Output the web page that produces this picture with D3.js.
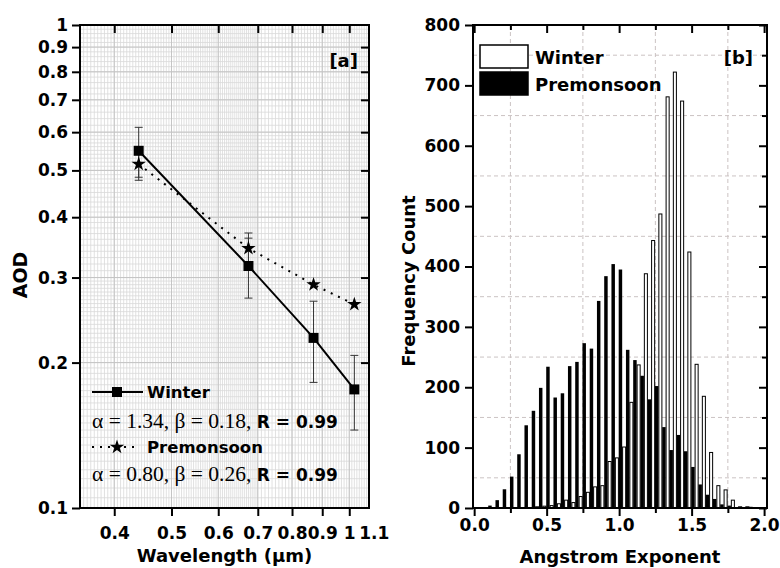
<!DOCTYPE html>
<html>
<head>
<title></title>
<script src="https://d3js.org/d3.v7.min.js"></script>
<style>
  body { margin: 0; background: #fff; }
  svg text { font-family: "DejaVu Sans", sans-serif; font-weight: bold; fill: #000; }
  .axis path { display: none; }
  .axis line { stroke: #000; stroke-width: 2; }
  .axis text { font-size: 17px; font-family: "DejaVu Sans", sans-serif; font-weight: bold; }
  .serif { font-family: "Liberation Serif", serif; font-weight: normal; }
</style>
</head>
<body>
<svg width="780" height="568"></svg>
<script>
// [a] spectral AOD, two seasons
var wavelengths = [0.44, 0.675, 0.87, 1.02];
var winterAOD = [0.549, 0.317, 0.225, 0.176];
var winterErr = [0.065, 0.045, 0.043, 0.031];
var premonAOD = [0.515, 0.345, 0.290, 0.264];
var premonErr = [0.038, 0.026, 0, 0];
var aodTicks = [0.1, 0.2, 0.3, 0.4, 0.5, 0.6, 0.7, 0.8, 0.9, 1];
var wlTicks = [0.4, 0.5, 0.6, 0.7, 0.8, 0.9, 1, 1.1];

// [b] Angstrom exponent histogram (bin centres, counts)
var aeBins = [0.10, 0.15, 0.20, 0.25, 0.30, 0.35, 0.40, 0.45, 0.50, 0.55, 0.60, 0.65, 0.70,
  0.75, 0.80, 0.85, 0.90, 0.95, 1.00, 1.05, 1.10, 1.15, 1.20, 1.25, 1.30, 1.35, 1.40,
  1.45, 1.50, 1.55, 1.60, 1.65, 1.70, 1.75, 1.80, 1.85, 1.90];
var premonCount = [4, 13, 31, 52, 89, 137, 161, 199, 234, 183, 190, 235, 242,
  273, 264, 343, 384, 404, 395, 262, 245, 219, 180, 202, 134, 96, 121,
  94, 68, 39, 22, 15, 6, 4, 0, 0, 2];
var winterCount = [0, 0, 0, 0, 0, 0, 2, 3, 4, 7, 13, 9, 19,
  26, 35, 37, 77, 83, 101, 175, 237, 388, 443, 487, 681, 722, 674,
  424, 238, 185, 92, 37, 30, 13, 2, 2, 0];
var aeTicks = [0, 0.5, 1.0, 1.5, 2.0];
var countTicks = [0, 100, 200, 300, 400, 500, 600, 700, 800];

var svg = d3.select("svg");

var A = {left: 80, right: 369, top: 25, bottom: 508};
var B = {left: 473, right: 767, top: 25, bottom: 508};

var xA = d3.scaleLog().domain([0.35, 1.08]).range([A.left, A.right]);
var yA = d3.scaleLog().domain([0.1, 1]).range([A.bottom, A.top]);
var xB = d3.scaleLinear().domain([-0.008, 2.02]).range([B.left, B.right]);
var yB = d3.scaleLinear().domain([0, 800]).range([B.bottom, B.top]);

// ---------- panel a ----------
var ga = svg.append("g");

// dense minor grid (origin style)
var gx = d3.range(350, 700, 5).concat(d3.range(700, 1081, 10)).map(function(d) { return d / 1000; });
var gy = d3.range(100, 300, 5).concat(d3.range(300, 600, 10)).concat(d3.range(600, 1001, 20)).map(function(d) { return d / 1000; });
ga.append("g").selectAll("line").data(gx).enter().append("line")
  .attr("x1", xA).attr("x2", xA).attr("y1", A.top).attr("y2", A.bottom)
  .attr("stroke", "#d9d9d9").attr("stroke-width", 0.8);
ga.append("g").selectAll("line").data(gy).enter().append("line")
  .attr("y1", yA).attr("y2", yA).attr("x1", A.left).attr("x2", A.right)
  .attr("stroke", "#d9d9d9").attr("stroke-width", 0.8);
ga.append("g").selectAll("line").data(wlTicks.slice(0, 7)).enter().append("line")
  .attr("x1", xA).attr("x2", xA).attr("y1", A.top).attr("y2", A.bottom)
  .attr("stroke", "#c4c4c4").attr("stroke-width", 1);
ga.append("g").selectAll("line").data(aodTicks).enter().append("line")
  .attr("y1", yA).attr("y2", yA).attr("x1", A.left).attr("x2", A.right)
  .attr("stroke", "#c4c4c4").attr("stroke-width", 1);

// error bars
function errBars(vals, errs) {
  var g = ga.append("g").attr("stroke", "#333").attr("stroke-width", 1);
  wavelengths.forEach(function(w, i) {
    if (!errs[i]) return;
    var x = xA(w), y0 = yA(vals[i] - errs[i]), y1 = yA(vals[i] + errs[i]);
    g.append("line").attr("x1", x).attr("x2", x).attr("y1", y0).attr("y2", y1);
    g.append("line").attr("x1", x - 4).attr("x2", x + 4).attr("y1", y0).attr("y2", y0);
    g.append("line").attr("x1", x - 4).attr("x2", x + 4).attr("y1", y1).attr("y2", y1);
  });
}
errBars(premonAOD, premonErr);
errBars(winterAOD, winterErr);

var line = d3.line()
  .x(function(d) { return xA(d[0]); })
  .y(function(d) { return yA(d[1]); });

ga.append("path")
  .datum(d3.zip(wavelengths, premonAOD))
  .attr("d", line).attr("fill", "none").attr("stroke", "#000")
  .attr("stroke-width", 2).attr("stroke-dasharray", "2,6");
ga.append("path")
  .datum(d3.zip(wavelengths, winterAOD))
  .attr("d", line).attr("fill", "none").attr("stroke", "#000").attr("stroke-width", 2);

var star = d3.symbol().type(d3.symbolStar).size(65);
var square = d3.symbol().type(d3.symbolSquare).size(100);

ga.append("g").selectAll("path").data(d3.zip(wavelengths, premonAOD)).enter().append("path")
  .attr("d", star)
  .attr("transform", function(d) { return "translate(" + xA(d[0]) + "," + yA(d[1]) + ")"; });
ga.append("g").selectAll("path").data(d3.zip(wavelengths, winterAOD)).enter().append("path")
  .attr("d", square)
  .attr("transform", function(d) { return "translate(" + xA(d[0]) + "," + yA(d[1]) + ")"; });

// axes a
ga.append("g").attr("class", "axis")
  .attr("transform", "translate(" + A.left + ",0)")
  .call(d3.axisLeft(yA).tickValues(aodTicks).tickSize(8).tickPadding(4)
    .tickFormat(function(d) { return d === 1 ? "1" : d.toFixed(1); }));
ga.append("g").attr("class", "axis")
  .attr("transform", "translate(" + A.right + ",0)")
  .call(d3.axisLeft(yA).tickValues(aodTicks.slice(1, 9)).tickSize(8).tickFormat(""));
ga.append("g").attr("class", "axis")
  .attr("transform", "translate(0," + A.top + ")")
  .call(d3.axisBottom(xA).tickValues(wlTicks.slice(0, 7)).tickSize(8).tickFormat(""));
var bx = ga.append("g").attr("class", "axis")
  .attr("transform", "translate(0," + A.bottom + ")")
  .call(d3.axisBottom(xA).tickValues(wlTicks).tickSize(8)
    .tickFormat(function(d) { return d === 1 ? "1" : d.toFixed(1); }));
bx.selectAll("text").attr("y", 19);
bx.selectAll(".tick").filter(function(d) { return d > 1.05; }).select("line").remove();

ga.append("rect")
  .attr("x", A.left).attr("y", A.top)
  .attr("width", A.right - A.left).attr("height", A.bottom - A.top)
  .attr("fill", "none").attr("stroke", "#000").attr("stroke-width", 2);

ga.append("text").attr("x", 358).attr("y", 67).attr("text-anchor", "end")
  .attr("font-size", 18).text("[a]");

// legend a
var lg = ga.append("g");
lg.append("line").attr("x1", 92).attr("x2", 143).attr("y1", 392).attr("y2", 392)
  .attr("stroke", "#000").attr("stroke-width", 2);
lg.append("path").attr("d", square).attr("transform", "translate(117,392)");
lg.append("text").attr("x", 147).attr("y", 398).attr("font-size", 16.5).text("Winter");
var f1 = lg.append("text").attr("x", 92).attr("y", 428);
f1.append("tspan").attr("class", "serif").attr("font-size", 21.5).text("\u03b1 = 1.34, \u03b2 = 0.18, ");
f1.append("tspan").attr("font-size", 17).text("R = 0.99");

lg.append("line").attr("x1", 92).attr("x2", 140).attr("y1", 447).attr("y2", 447)
  .attr("stroke", "#000").attr("stroke-width", 2).attr("stroke-dasharray", "2,6");
lg.append("path").attr("d", star).attr("transform", "translate(117,447)");
lg.append("text").attr("x", 147).attr("y", 453).attr("font-size", 16.5).text("Premonsoon");
var f2 = lg.append("text").attr("x", 92).attr("y", 481);
f2.append("tspan").attr("class", "serif").attr("font-size", 21.5).text("\u03b1 = 0.80, \u03b2 = 0.26, ");
f2.append("tspan").attr("font-size", 17).text("R = 0.99");

ga.append("text").attr("x", (A.left + A.right) / 2).attr("y", 562)
  .attr("text-anchor", "middle").attr("font-size", 18).text("Wavelength (\u03bcm)");
ga.append("text").attr("transform", "translate(27,275) rotate(-90)")
  .attr("text-anchor", "middle").attr("font-size", 19).text("AOD");

// ---------- panel b ----------
var gbp = svg.append("g");

var gridX = [0.25, 0.75, 1.25, 1.75];
var gridY = d3.range(50, 800, 100);
gbp.append("g").selectAll("line").data(gridX).enter().append("line")
  .attr("x1", xB).attr("x2", xB).attr("y1", B.top).attr("y2", B.bottom)
  .attr("stroke", "#cbc3c3").attr("stroke-dasharray", "4,3");
gbp.append("g").selectAll("line").data(gridY).enter().append("line")
  .attr("y1", yB).attr("y2", yB).attr("x1", B.left).attr("x2", B.right)
  .attr("stroke", "#cbc3c3").attr("stroke-dasharray", "4,3");

var hist = aeBins.map(function(c, i) { return {c: c, w: winterCount[i], p: premonCount[i]}; });

gbp.append("g").selectAll("rect")
  .data(hist.filter(function(d) { return d.w > 0; }))
  .enter().append("rect")
  .attr("x", function(d) { return xB(d.c + 0.024); })
  .attr("width", function(d) { return xB(d.c + 0.045) - xB(d.c + 0.024); })
  .attr("y", function(d) { return yB(d.w); })
  .attr("height", function(d) { return yB(0) - yB(d.w); })
  .attr("fill", "#fff").attr("stroke", "#000").attr("stroke-width", 1);

gbp.append("g").selectAll("rect")
  .data(hist.filter(function(d) { return d.p > 0; }))
  .enter().append("rect")
  .attr("x", function(d) { return xB(d.c - 0.003); })
  .attr("width", function(d) { return xB(d.c + 0.021) - xB(d.c - 0.003); })
  .attr("y", function(d) { return yB(d.p); })
  .attr("height", function(d) { return yB(0) - yB(d.p); })
  .attr("fill", "#000");

// axes b
var minorY = d3.range(0, 801, 50);
var minorX = d3.range(0, 2.01, 0.25);
gbp.append("g").attr("class", "axis")
  .attr("transform", "translate(" + B.left + ",0)")
  .call(d3.axisLeft(yB).tickValues(countTicks).tickSize(8).tickPadding(5));
gbp.append("g").attr("class", "axis")
  .attr("transform", "translate(" + B.right + ",0)")
  .call(d3.axisLeft(yB).tickValues(minorY).tickSize(8).tickFormat(""))
  .selectAll(".tick line").attr("x2", function(d) { return d % 100 ? -5 : -8; });
gbp.append("g").attr("class", "axis")
  .attr("transform", "translate(0," + B.top + ")")
  .call(d3.axisBottom(xB).tickValues(minorX).tickSize(8).tickFormat(""))
  .selectAll(".tick line").attr("y2", function(d) { return (d * 4) % 2 ? 5 : 8; });
var bb = gbp.append("g").attr("class", "axis")
  .attr("transform", "translate(0," + B.bottom + ")")
  .call(d3.axisBottom(xB).tickValues(minorX).tickSize(8)
    .tickFormat(function(d) { return aeTicks.indexOf(d) >= 0 ? d.toFixed(1) : ""; }));
bb.selectAll(".tick line").attr("y2", function(d) { return (d * 4) % 2 ? 5 : 8; });
bb.selectAll("text").attr("y", 11);

gbp.append("rect")
  .attr("x", B.left).attr("y", B.top)
  .attr("width", B.right - B.left).attr("height", B.bottom - B.top)
  .attr("fill", "none").attr("stroke", "#000").attr("stroke-width", 2);

gbp.append("text").attr("x", 753).attr("y", 64).attr("text-anchor", "end")
  .attr("font-size", 18).text("[b]");

// legend b
gbp.append("rect").attr("x", 480).attr("y", 45).attr("width", 48).attr("height", 23)
  .attr("fill", "#fff").attr("stroke", "#000").attr("stroke-width", 1.5);
gbp.append("rect").attr("x", 480).attr("y", 72).attr("width", 48).attr("height", 23)
  .attr("fill", "#000").attr("stroke", "#000").attr("stroke-width", 1.5);
gbp.append("text").attr("x", 535).attr("y", 64).attr("font-size", 18).text("Winter");
gbp.append("text").attr("x", 535).attr("y", 91).attr("font-size", 18).text("Premonsoon");

gbp.append("text").attr("x", (B.left + B.right) / 2).attr("y", 563)
  .attr("text-anchor", "middle").attr("font-size", 18).text("Angstrom Exponent");
gbp.append("text").attr("transform", "translate(415,281) rotate(-90)")
  .attr("text-anchor", "middle").attr("font-size", 18).text("Frequency Count");
</script>
</body>
</html>
